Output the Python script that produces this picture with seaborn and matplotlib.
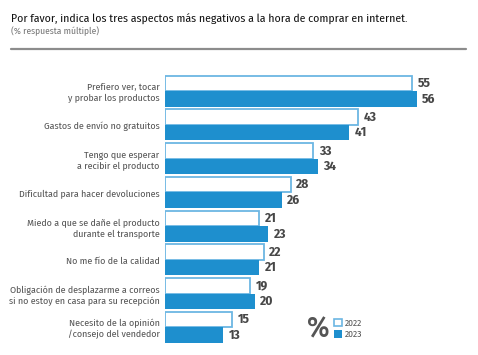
import matplotlib
matplotlib.use("Agg")
import matplotlib.pyplot as plt
import matplotlib.patches as patches
import pandas as pd
import seaborn as sns

# data
aspectos = [
    "Prefiero ver, tocar\ny probar los productos",
    "Gastos de envío no gratuitos",
    "Tengo que esperar\na recibir el producto",
    "Dificultad para hacer devoluciones",
    "Miedo a que se dañe el producto\ndurante el transporte",
    "No me fío de la calidad",
    "Obligación de desplazarme a correos\nsi no estoy en casa para su recepción",
    "Necesito de la opinión\n/consejo del vendedor",
]
valores_2022 = [55, 43, 33, 28, 21, 22, 19, 15]
valores_2023 = [56, 41, 34, 26, 23, 21, 20, 13]
anios = ["2022", "2023"]

titulo = "Por favor, indica los tres aspectos más negativos a la hora de comprar en internet."
subtitulo = "(% respuesta múltiple)"

# colours
azul = "#1e8fce"
azul_claro = "#6cb6e3"
gris_txt = "#555555"
gris_num = "#474747"

df = pd.DataFrame({
    "aspecto": aspectos * 2,
    "valor": valores_2022 + valores_2023,
    "anio": [anios[0]] * len(aspectos) + [anios[1]] * len(aspectos),
})

sns.set_style("white")
plt.rcParams["font.family"] = ["Fira Sans Condensed", "Roboto Condensed", "PT Sans Narrow", "DejaVu Sans"]

fig = plt.figure(figsize=(4.78, 3.55), dpi=100, facecolor="white")
ax = fig.add_axes([0.3452, 0.030, 0.638, 0.7606])

sns.barplot(
    data=df, y="aspecto", x="valor", hue="anio", orient="h",
    order=aspectos, hue_order=anios, palette=[azul, azul], saturation=1,
    width=0.92, gap=0, dodge=True, ax=ax, legend=False,
)

# 2022 bars: outlined only
for bar in ax.containers[0]:
    bar.set_facecolor("white")
    bar.set_edgecolor(azul_claro)
    bar.set_linewidth(1.3)
for bar in ax.containers[1]:
    bar.set_edgecolor("none")

for cont in ax.containers:
    ax.bar_label(cont, padding=4, fontsize=9.5, fontweight="bold", color=gris_num)

ax.set_xlim(0, 67.9)
ax.set_ylim(7.5, -0.5)
ax.set_xlabel("")
ax.set_ylabel("")
ax.set_xticks([])
ax.tick_params(axis="y", length=0, pad=4, labelsize=7.1, labelcolor=gris_txt)
for s in ax.spines.values():
    s.set_visible(False)

# header
fig.text(0.023, 0.944, titulo, fontsize=8.4, color="#111111", va="center")
fig.text(0.023, 0.911, subtitulo, fontsize=6.8, color="#777777", va="center")
fig.add_artist(plt.Line2D([0.023, 0.975], [0.863, 0.863], color="#8c8c8c", lw=1.6))

# legend
fig.text(0.643, 0.073, "%", fontsize=21, fontweight="medium", color="#555555", va="center", ha="left")
handles = [
    patches.Patch(facecolor="white", edgecolor=azul_claro, linewidth=1.2, label=anios[0]),
    patches.Patch(facecolor=azul, edgecolor="none", label=anios[1]),
]
fig.legend(handles=handles, loc="center left", bbox_to_anchor=(0.689, 0.073),
           frameon=False, fontsize=6.8, handlelength=0.8, handleheight=0.8,
           handletextpad=0.3, labelspacing=0.25, borderpad=0, labelcolor="#555555")

fig.savefig("out.png", dpi=100, facecolor="white")
